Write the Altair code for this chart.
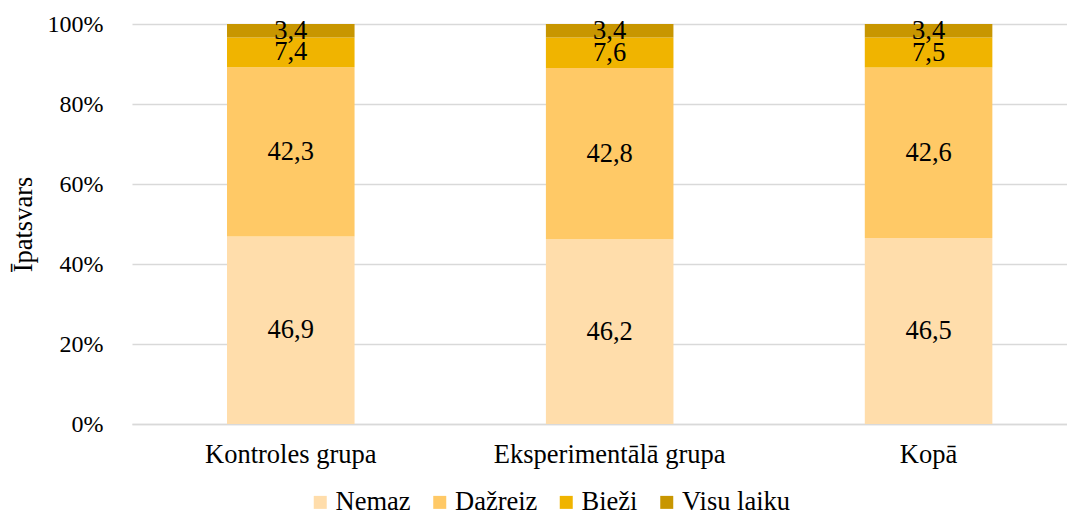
import altair as alt
import pandas as pd

groups = ["Kontroles grupa", "Eksperimentālā grupa", "Kopā"]
categories = ["Nemaz", "Dažreiz", "Bieži", "Visu laiku"]
colors = ["#FFDDAB", "#FFC966", "#F0B400", "#C89600"]
nemaz = [46.9, 46.2, 46.5]
dazreiz = [42.3, 42.8, 42.6]
biezi = [7.4, 7.6, 7.5]
visu = [3.4, 3.4, 3.4]

series = [nemaz, dazreiz, biezi, visu]
rows = []
for ci, (cat, vals) in enumerate(zip(categories, series)):
    for g, v in zip(groups, vals):
        rows.append({"group": g, "cat": cat, "order": ci, "value": v,
                     "label": f"{v:.1f}".replace(".", ",")})
df = pd.DataFrame(rows)

FONT = "Liberation Serif"
FS = 26.5
FSY = 24

base = alt.Chart(df).transform_stack(
    stack="value", as_=["y0", "y1"], groupby=["group"],
    sort=[alt.SortField("order", order="ascending")]
).transform_calculate(mid="(datum.y0 + datum.y1) / 2")

x = alt.X("group:N", sort=groups, title=None,
          scale=alt.Scale(paddingInner=0.6, paddingOuter=0.266, align=0.56),
          axis=alt.Axis(labelAngle=0, labelFontSize=FS, labelFont=FONT,
                        labelColor="#000000", labelPadding=17, ticks=False,
                        labelLimit=400,
                        domainColor="#d9d9d9", domainWidth=1.5))

bars = base.mark_bar().encode(
    x=x,
    y=alt.Y("y0:Q", scale=alt.Scale(domain=[0, 100]),
            title="Īpatsvars",
            axis=alt.Axis(values=[0, 20, 40, 60, 80, 100],
                          labelExpr="datum.value + '%'",
                          labelFontSize=FSY, labelFont=FONT, labelColor="#000000",
                          labelPadding=29, ticks=False, domain=False,
                          gridColor="#d9d9d9", gridWidth=1.5,
                          titleFontSize=FS, titleFont=FONT, titleFontWeight="normal",
                          titleColor="#000000", titlePadding=9.5)),
    y2="y1:Q",
    color=alt.Color("cat:N", sort=categories,
                    scale=alt.Scale(domain=categories, range=colors),
                    legend=alt.Legend(title=None, orient="none", direction="horizontal",
                                      legendX=175, legendY=465,
                                      labelFontSize=FS, labelFont=FONT,
                                      labelColor="#000000", symbolType="square",
                                      symbolSize=169, symbolStrokeWidth=0,
                                      columnPadding=15.5, labelOffset=2)),
)

texts = base.mark_text(fontSize=FS, font=FONT, color="#000000", baseline="middle").encode(
    x=alt.X("group:N", sort=groups),
    y=alt.Y("mid:Q"),
    text="label:N",
)

chart = (bars + texts).properties(
    width=935, height=400,
    padding={"left": 2, "top": 4, "right": 0, "bottom": 0},
).configure_view(stroke=None).configure_axis(grid=True).configure_axisX(grid=False)

chart.save("out.html", embed_options={"renderer": "svg", "actions": False})
